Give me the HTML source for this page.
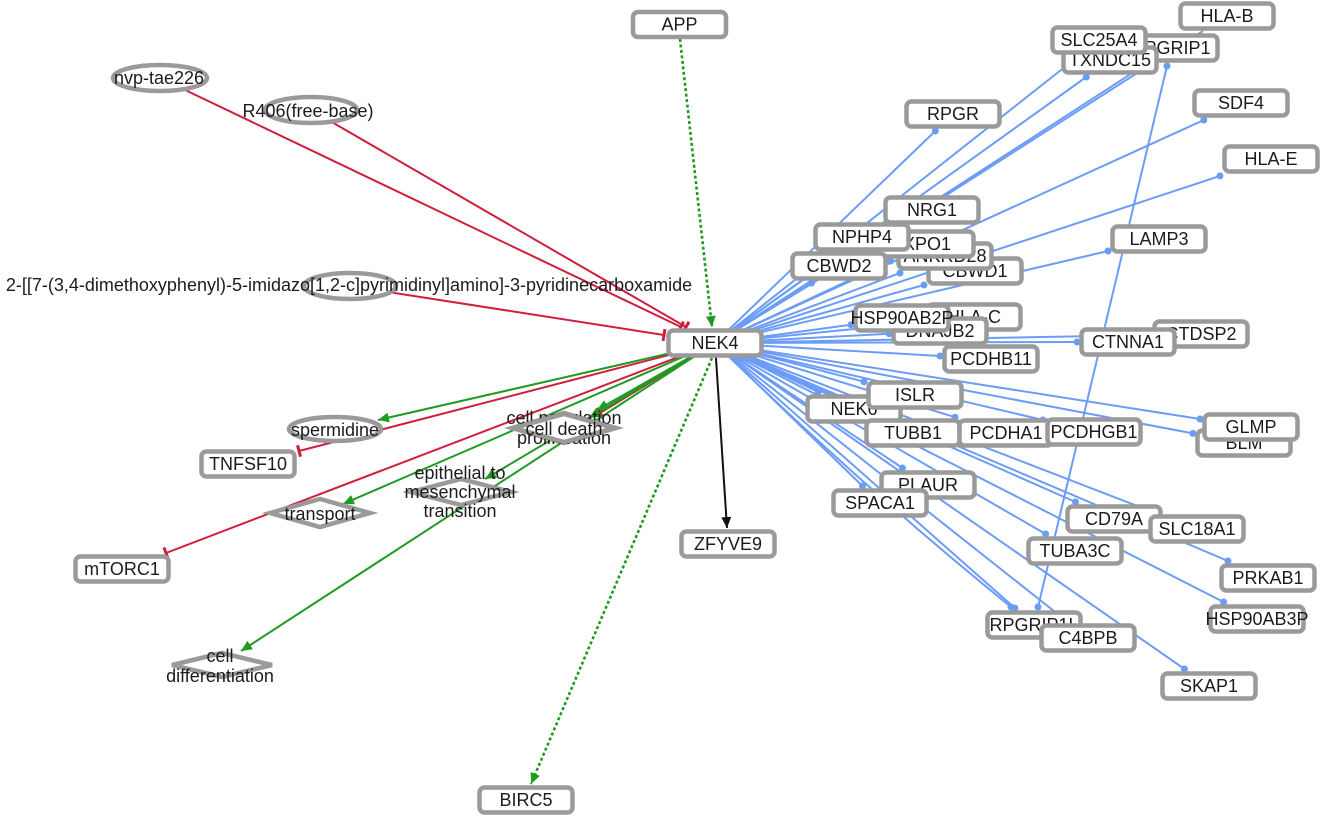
<!DOCTYPE html>
<html>
<head>
<meta charset="utf-8">
<style>
html,body{margin:0;padding:0;background:#fff;}
svg{display:block;}
.n{fill:#fff;stroke:#9a9a9a;stroke-width:4.5;}
text{font-family:"Liberation Sans",Arial,sans-serif;font-size:18px;fill:#1c1c1c;text-anchor:middle;}
.b{stroke:#6b9cf7;stroke-width:2;fill:none;}
.r{stroke:#d01e3c;stroke-width:2;fill:none;}
.g{stroke:#1f9a22;stroke-width:2;fill:none;}
.gd{stroke:#1f9a22;stroke-width:2.6;fill:none;stroke-dasharray:3 2.5;}
.k{stroke:#111;stroke-width:2;fill:none;}
</style>
</head>
<body>
<svg width="1322" height="817" viewBox="0 0 1322 817" xmlns="http://www.w3.org/2000/svg">
<defs>
<marker id="aG" markerUnits="userSpaceOnUse" markerWidth="12" markerHeight="10" refX="11" refY="5" orient="auto"><path d="M0,0 L11,5 L0,10 z" fill="#1f9a22"/></marker>
<marker id="aK" markerUnits="userSpaceOnUse" markerWidth="12" markerHeight="10" refX="11" refY="5" orient="auto"><path d="M0,0 L11,5 L0,10 z" fill="#111"/></marker>
<marker id="tR" markerUnits="userSpaceOnUse" markerWidth="4" markerHeight="12" refX="2" refY="6" orient="auto"><rect x="0.5" y="0" width="3" height="12" fill="#d01e3c"/></marker>
<marker id="dB" markerUnits="userSpaceOnUse" markerWidth="8" markerHeight="8" refX="4" refY="4" orient="auto"><circle cx="4" cy="4" r="3.5" fill="#6b9cf7"/></marker>
</defs>
<rect x="0" y="0" width="1322" height="817" fill="#fff"/>

<!-- blue edges -->
<g class="b">
<line x1="715" y1="343" x2="1203" y2="31"/>
<line x1="715" y1="343" x2="1144.7" y2="65" marker-end="url(#dB)"/>
<line x1="715" y1="343" x2="1077.5" y2="57" marker-end="url(#dB)"/>
<line x1="715" y1="343" x2="1086.3" y2="77" marker-end="url(#dB)"/>
<line x1="715" y1="343" x2="935.3" y2="131" marker-end="url(#dB)"/>
<line x1="715" y1="343" x2="1203.8" y2="120" marker-end="url(#dB)"/>
<line x1="715" y1="343" x2="1220" y2="175.9" marker-end="url(#dB)"/>
<line x1="715" y1="343" x2="904.2" y2="227" marker-end="url(#dB)"/>
<line x1="715" y1="343" x2="1108" y2="251" marker-end="url(#dB)"/>
<line x1="715" y1="343" x2="838.5" y2="254" marker-end="url(#dB)"/>
<line x1="715" y1="343" x2="890.6" y2="261" marker-end="url(#dB)"/>
<line x1="715" y1="343" x2="900" y2="273" marker-end="url(#dB)"/>
<line x1="715" y1="343" x2="811.6" y2="283" marker-end="url(#dB)"/>
<line x1="715" y1="343" x2="924" y2="285" marker-end="url(#dB)"/>
<line x1="715" y1="343" x2="851" y2="324.8" marker-end="url(#dB)"/>
<line x1="715" y1="343" x2="923" y2="322" marker-end="url(#dB)"/>
<line x1="715" y1="343" x2="889" y2="333.7" marker-end="url(#dB)"/>
<line x1="715" y1="343" x2="1077" y2="342" marker-end="url(#dB)"/>
<line x1="715" y1="343" x2="1150" y2="335" marker-end="url(#dB)"/>
<line x1="715" y1="343" x2="940" y2="356" marker-end="url(#dB)"/>
<line x1="715" y1="343" x2="864" y2="381.7" marker-end="url(#dB)"/>
<line x1="715" y1="343" x2="818.2" y2="392" marker-end="url(#dB)"/>
<line x1="715" y1="343" x2="875.6" y2="416" marker-end="url(#dB)"/>
<line x1="715" y1="343" x2="955" y2="417.2" marker-end="url(#dB)"/>
<line x1="715" y1="343" x2="1043" y2="420" marker-end="url(#dB)"/>
<line x1="715" y1="343" x2="1200" y2="419" marker-end="url(#dB)"/>
<line x1="715" y1="343" x2="1193" y2="433.4" marker-end="url(#dB)"/>
<line x1="715" y1="343" x2="902.5" y2="468" marker-end="url(#dB)"/>
<line x1="715" y1="343" x2="862.5" y2="486" marker-end="url(#dB)"/>
<line x1="715" y1="343" x2="1075.5" y2="502" marker-end="url(#dB)"/>
<line x1="715" y1="343" x2="1153" y2="512" marker-end="url(#dB)"/>
<line x1="715" y1="343" x2="1045.6" y2="534" marker-end="url(#dB)"/>
<line x1="715" y1="343" x2="1228" y2="561" marker-end="url(#dB)"/>
<line x1="715" y1="343" x2="1223.6" y2="602" marker-end="url(#dB)"/>
<line x1="715" y1="343" x2="1014.8" y2="608" marker-end="url(#dB)"/>
<path d="M715,343 Q858,483 1011,607" marker-end="url(#dB)"/>
<line x1="715" y1="343" x2="1066.5" y2="621" marker-end="url(#dB)"/>
<line x1="715" y1="343" x2="1184.5" y2="669" marker-end="url(#dB)"/>
<line x1="1167" y1="66" x2="1038" y2="607" marker-end="url(#dB)" marker-start="url(#dB)"/>
</g>

<!-- red inhibition edges -->
<g class="r">
<line x1="160" y1="78" x2="681" y2="327" marker-end="url(#tR)"/>
<line x1="311" y1="110" x2="686" y2="327" marker-end="url(#tR)"/>
<line x1="350" y1="286" x2="664" y2="335" marker-end="url(#tR)"/>
<line x1="715" y1="343" x2="299" y2="451" marker-end="url(#tR)"/>
<line x1="715" y1="343" x2="166" y2="553" marker-end="url(#tR)"/>
<line x1="715" y1="343" x2="600" y2="413" marker-end="url(#tR)"/>
</g>

<!-- green edges -->
<g class="g">
<line x1="715" y1="343" x2="378" y2="420" marker-end="url(#aG)"/>
<line x1="715" y1="343" x2="343" y2="504" marker-end="url(#aG)"/>
<line x1="715" y1="343" x2="597" y2="410" marker-end="url(#aG)"/>
<line x1="715" y1="343" x2="589" y2="418" marker-end="url(#aG)"/>
<line x1="715" y1="343" x2="485" y2="479" marker-end="url(#aG)"/>
<line x1="715" y1="343" x2="241" y2="651" marker-end="url(#aG)"/>
</g>
<line class="gd" x1="680" y1="39" x2="712" y2="327" marker-end="url(#aG)"/>
<line class="gd" x1="712" y1="358" x2="531" y2="784" marker-end="url(#aG)"/>
<line class="k" x1="715" y1="343" x2="727" y2="528" marker-end="url(#aK)"/>

<!-- left nodes -->
<ellipse class="n" cx="160" cy="78" rx="47" ry="13"/>
<text x="159" y="84">nvp-tae226</text>
<ellipse class="n" cx="311" cy="110" rx="46" ry="13"/>
<text x="308" y="117">R406(free-base)</text>
<ellipse class="n" cx="350" cy="286" rx="46" ry="13"/>
<text x="349" y="291">2-[[7-(3,4-dimethoxyphenyl)-5-imidazo[1,2-c]pyrimidinyl]amino]-3-pyridinecarboxamide</text>
<ellipse class="n" cx="335" cy="429" rx="46" ry="12"/>
<text x="335" y="436">spermidine</text>

<polygon class="n" points="270,513 320,499 370,513 320,527"/>
<text x="320" y="520">transport</text>

<polygon class="n" points="512,428 564,413 616,428 564,443"/>
<text x="564" y="424">cell population</text>
<text x="564" y="444">proliferation</text>
<polygon class="n" points="514,428 564,414 614,428 564,442"/>
<text x="564" y="435">cell death</text>

<polygon class="n" points="411,492 461,479 511,492 461,505"/>
<text x="460" y="479">epithelial to</text>
<text x="460" y="498">mesenchymal</text>
<text x="460" y="517">transition</text>

<polygon class="n" points="172,665 222,653 272,665 222,677"/>
<text x="220" y="662">cell</text>
<text x="220" y="682">differentiation</text>

<rect class="n" x="201.5" y="451.5" width="93" height="25" rx="5"/><text x="248" y="470">TNFSF10</text>
<rect class="n" x="75.5" y="556.5" width="93" height="25" rx="5"/><text x="122" y="575">mTORC1</text>
<rect class="n" x="681.5" y="531.5" width="93" height="25" rx="5"/><text x="728" y="550">ZFYVE9</text>
<rect class="n" x="479.5" y="787.5" width="93" height="25" rx="5"/><text x="526" y="806">BIRC5</text>
<rect class="n" x="633" y="12" width="93" height="25" rx="5"/><text x="679.5" y="30.5">APP</text>
<rect class="n" x="668.5" y="330.5" width="93" height="25" rx="5"/><text x="715" y="349">NEK4</text>

<!-- right nodes -->
<rect class="n" x="1180.5" y="3.5" width="93" height="25" rx="5"/><text x="1227" y="22">HLA-B</text>
<rect class="n" x="1124.5" y="35.5" width="93" height="25" rx="5"/><text x="1171" y="54">RPGRIP1</text>
<rect class="n" x="1063.5" y="47.5" width="93" height="25" rx="5"/><text x="1110" y="66">TXNDC15</text>
<rect class="n" x="1052.5" y="27.5" width="93" height="25" rx="5"/><text x="1099" y="46">SLC25A4</text>
<rect class="n" x="906.5" y="101.5" width="93" height="25" rx="5"/><text x="953" y="120">RPGR</text>
<rect class="n" x="1194.5" y="90.5" width="93" height="25" rx="5"/><text x="1241" y="109">SDF4</text>
<rect class="n" x="1224.5" y="146.5" width="93" height="25" rx="5"/><text x="1271" y="165">HLA-E</text>
<rect class="n" x="885.5" y="197.5" width="93" height="25" rx="5"/><text x="932" y="216">NRG1</text>
<rect class="n" x="1112.5" y="226.5" width="93" height="25" rx="5"/><text x="1159" y="245">LAMP3</text>
<rect class="n" x="928.5" y="258.5" width="93" height="25" rx="5"/><text x="975" y="277">CBWD1</text>
<rect class="n" x="898.5" y="243.5" width="93" height="25" rx="5"/><text x="945" y="262">ANKRD28</text>
<rect class="n" x="880.5" y="231.5" width="93" height="25" rx="5"/><text x="927" y="250">XPO1</text>
<rect class="n" x="815.5" y="224.5" width="93" height="25" rx="5"/><text x="862" y="243">NPHP4</text>
<rect class="n" x="792.5" y="253.5" width="93" height="25" rx="5"/><text x="839" y="272">CBWD2</text>
<rect class="n" x="927.5" y="304.5" width="93" height="25" rx="5"/><text x="974" y="323">HLA-C</text>
<rect class="n" x="893.5" y="318.5" width="93" height="25" rx="5"/><text x="940" y="337">DNAJB2</text>
<rect class="n" x="855.5" y="305.5" width="93" height="25" rx="5"/><text x="902" y="324">HSP90AB2P</text>
<rect class="n" x="1154.5" y="321.5" width="93" height="25" rx="5"/><text x="1201" y="340">CTDSP2</text>
<rect class="n" x="1081.5" y="329.5" width="93" height="25" rx="5"/><text x="1128" y="348">CTNNA1</text>
<rect class="n" x="944.5" y="346.5" width="93" height="25" rx="5"/><text x="991" y="365">PCDHB11</text>
<rect class="n" x="807.5" y="396.5" width="93" height="25" rx="5"/><text x="854" y="415">NEK6</text>
<rect class="n" x="868.5" y="382.5" width="93" height="25" rx="5"/><text x="915" y="401">ISLR</text>
<rect class="n" x="866.5" y="420.5" width="93" height="25" rx="5"/><text x="913" y="439">TUBB1</text>
<rect class="n" x="959.5" y="420.5" width="93" height="25" rx="5"/><text x="1006" y="439">PCDHA1</text>
<rect class="n" x="1047.5" y="419.5" width="93" height="25" rx="5"/><text x="1094" y="438">PCDHGB1</text>
<rect class="n" x="1197.5" y="430.5" width="93" height="25" rx="5"/><text x="1244" y="449">BLM</text>
<rect class="n" x="1204.5" y="414.5" width="93" height="25" rx="5"/><text x="1251" y="433">GLMP</text>
<rect class="n" x="881.5" y="472.5" width="93" height="25" rx="5"/><text x="928" y="491">PLAUR</text>
<rect class="n" x="833.5" y="490.5" width="93" height="25" rx="5"/><text x="880" y="509">SPACA1</text>
<rect class="n" x="1067.5" y="506.5" width="93" height="25" rx="5"/><text x="1114" y="525">CD79A</text>
<rect class="n" x="1150.5" y="516.5" width="93" height="25" rx="5"/><text x="1197" y="535">SLC18A1</text>
<rect class="n" x="1028.5" y="538.5" width="93" height="25" rx="5"/><text x="1075" y="557">TUBA3C</text>
<rect class="n" x="1221.5" y="565.5" width="93" height="25" rx="5"/><text x="1268" y="584">PRKAB1</text>
<rect class="n" x="1210.5" y="606.5" width="93" height="25" rx="5"/><text x="1257" y="625">HSP90AB3P</text>
<rect class="n" x="987.5" y="612.5" width="93" height="25" rx="5"/><text x="1034" y="631">RPGRIP1L</text>
<rect class="n" x="1041.5" y="625.5" width="93" height="25" rx="5"/><text x="1088" y="644">C4BPB</text>
<rect class="n" x="1162.5" y="673.5" width="93" height="25" rx="5"/><text x="1209" y="692">SKAP1</text>
</svg>
</body>
</html>
